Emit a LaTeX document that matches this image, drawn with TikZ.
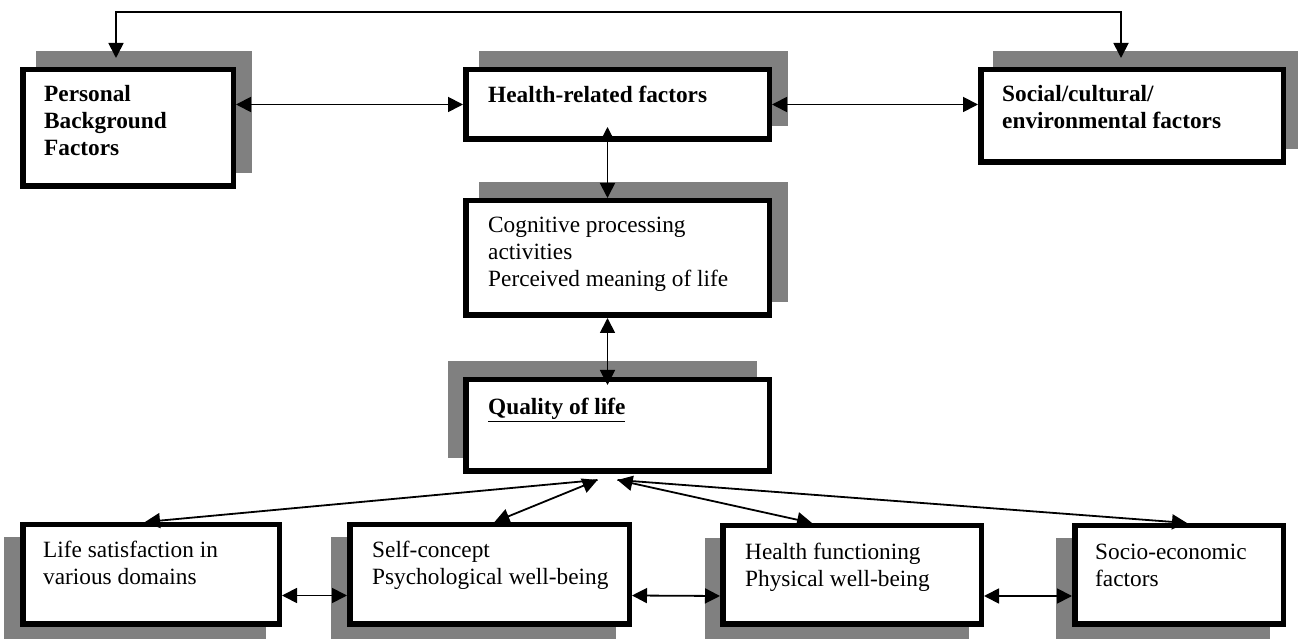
\documentclass[tikz,border=0pt]{standalone}
\usepackage{fontspec}
\setmainfont{Liberation Serif}
\usetikzlibrary{arrows.meta,backgrounds}
\definecolor{shadegray}{RGB}{128,128,128}

% grey block behind a box, shifted by (#2,#3)
\newcommand{\boxshadow}[3]{%
  \fill[shadegray] ([shift={(#2,#3)}]#1.south west) rectangle ([shift={(#2,#3)}]#1.north east);}

\begin{document}
\begin{tikzpicture}[x=1pt, y=1pt,
    box/.style = {draw, line width=5.5pt, fill=white, inner sep=0pt},
    boxtext/.style = {anchor=base west, inner sep=0pt, align=left,
                      font=\fontsize{23.3}{27}\selectfont},
    link/.style = {line width=1.8pt,
                   {Triangle[length=15pt,width=15pt]}-{Triangle[length=15pt,width=15pt]}},
    tolink/.style = {line width=1.8pt, -{Triangle[length=15pt,width=15pt]}}]
    \useasboundingbox (0,0) rectangle (1298,639);

    % top row
    \node[box, minimum width=210.5pt, minimum height=116.5pt] (personal) at (128,511) {};
    \node[box, minimum width=303.5pt, minimum height=69.5pt] (health) at (617.5,534.5) {};
    \node[box, minimum width=302.5pt, minimum height=92.5pt] (social) at (1132,523) {};

    % middle column
    \node[box, minimum width=303.5pt, minimum height=114.5pt] (cognitive) at (617.5,381) {};
    \node[box, minimum width=303.5pt, minimum height=91.5pt] (quality) at (617.5,213.5) {};

    % bottom row
    \node[box, minimum width=256.5pt, minimum height=99.5pt] (life) at (151,64.5) {};
    \node[box, minimum width=279.5pt, minimum height=99.5pt] (self) at (489.5,64.5) {};
    \node[box, minimum width=258.5pt, minimum height=98.5pt] (healthfn) at (852,64) {};
    \node[box, minimum width=208.5pt, minimum height=98.5pt] (socio) at (1179,64) {};

    \begin{scope}[on background layer]
        \boxshadow{personal}{16}{16}
        \boxshadow{health}{16}{16}
        \boxshadow{social}{15}{16}
        \boxshadow{cognitive}{16}{16}
        \boxshadow{quality}{-15}{16}
        \boxshadow{life}{-16}{-15}
        \boxshadow{self}{-16}{-15}
        \boxshadow{healthfn}{-15}{-15}
        \boxshadow{socio}{-16}{-15}
    \end{scope}

    % texts (base anchor sits on the last line)
    \node[boxtext] (personal-t) at ([shift={(24,-89)}]personal.north west)
        {\textbf{Personal}\\\textbf{Background}\\\textbf{Factors}};
    \node[boxtext] (health-t) at ([shift={(25,-36)}]health.north west)
        {\textbf{Health-related factors}};
    \node[boxtext] (social-t) at ([shift={(24,-62)}]social.north west)
        {\textbf{Social/cultural/}\\\textbf{environmental factors}};
    \node[boxtext] (cognitive-t) at ([shift={(25,-89)}]cognitive.north west)
        {Cognitive processing\\activities\\Perceived meaning of life};
    \node[boxtext] (quality-t) at ([shift={(25,-38)}]quality.north west)
        {\underline{\textbf{Quality of life}}};
    \node[boxtext] (life-t) at ([shift={(23,-63)}]life.north west)
        {Life satisfaction in\\various domains};
    \node[boxtext] (self-t) at ([shift={(25,-63)}]self.north west)
        {Self-concept\\Psychological well-being};
    \node[boxtext] (healthfn-t) at ([shift={(25,-64)}]healthfn.north west)
        {Health functioning\\Physical well-being};
    \node[boxtext] (socio-t) at ([shift={(23,-64)}]socio.north west)
        {Socio-economic\\factors};

    % connectors
    \draw[link] ([shift={(-12,9)}]personal.north) |- ([shift={(-11,55)}]social.north)
        -- ([shift={(-11,9)}]social.north);
    \draw[link] (personal.east |- health.west) -- (health.west);
    \draw[link] (health.east) -- (social.west |- health.east);
    \draw[link] ([shift={(-10,15)}]health.south) -- ([xshift=-10pt]cognitive.north);
    \draw[link] ([xshift=-10pt]cognitive.south) -- ([shift={(-10,-8)}]quality.north);

    \coordinate (hubl) at ([shift={(-20,-6)}]quality.south);
    \coordinate (hubr) at ([yshift=-6pt]quality.south);
    \draw[tolink] (hubl) -- ([xshift=-6pt]life.north);
    \draw[link] (hubl) -- ([xshift=5pt]self.north);
    \draw[link] (hubr) -- ([xshift=-40pt]healthfn.north);
    \draw[tolink] (hubr) -- ([xshift=8pt]socio.north);

    \draw[link] ([yshift=-21pt]life.east) -- ([yshift=-21pt]self.west);
    \draw[link] ([yshift=-21pt]self.east) -- ([yshift=-21pt]healthfn.west);
    \draw[link] ([yshift=-21pt]healthfn.east) -- ([yshift=-21pt]socio.west);
\end{tikzpicture}
\end{document}
